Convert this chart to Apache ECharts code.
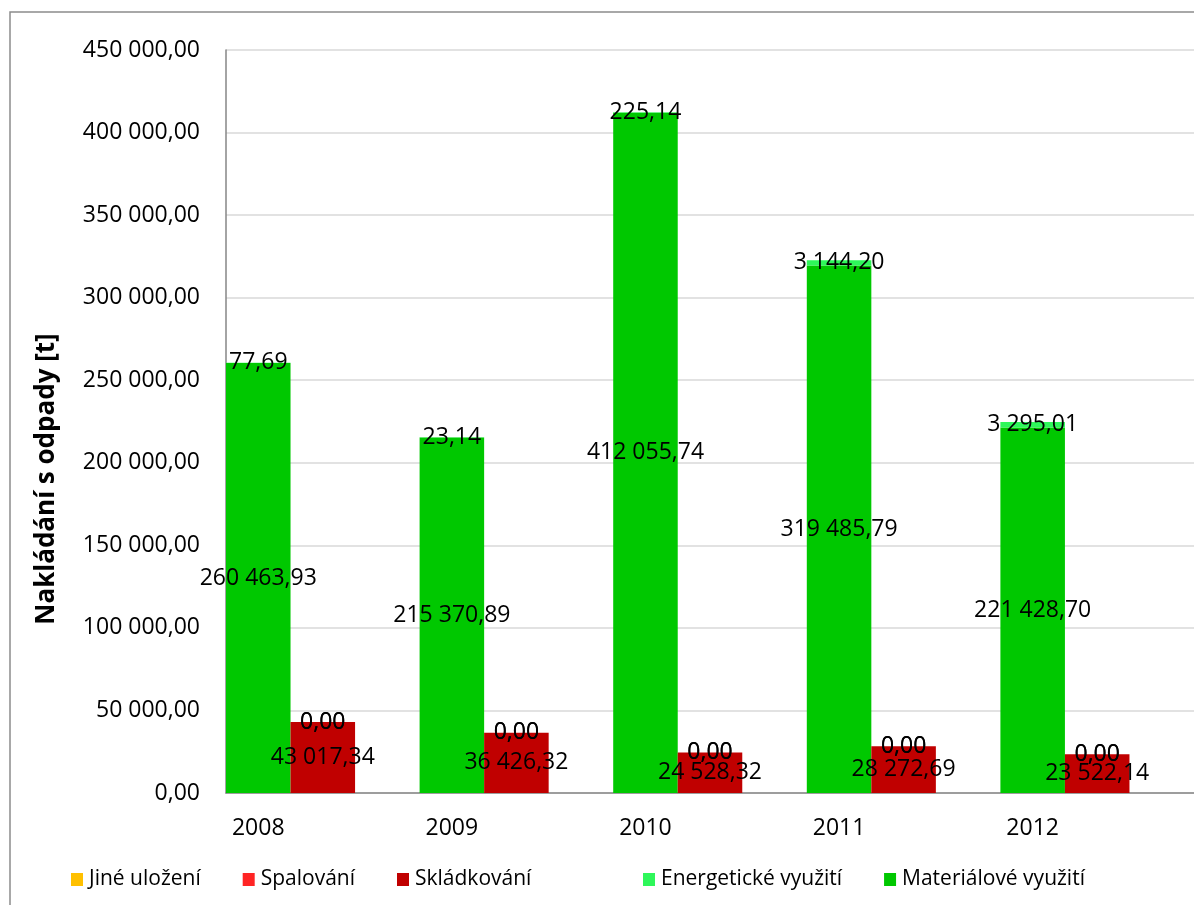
<!DOCTYPE html>
<html>
<head>
<meta charset="utf-8">
<script src="https://cdn.jsdelivr.net/npm/echarts@6/dist/echarts.min.js"></script>
<style>
html,body{margin:0;padding:0;background:#fff;}
#c{width:1194px;height:905px;}
</style>
</head>
<body>
<div id="c"></div>
<script>
// ---- data ----
var years = ['2008', '2009', '2010', '2011', '2012'];
var materialove = [260463.93, 215370.89, 412055.74, 319485.79, 221428.70];
var energeticke = [77.69, 23.14, 225.14, 3144.20, 3295.01];
var skladkovani = [43017.34, 36426.32, 24528.32, 28272.69, 23522.14];
var spalovani = [0, 0, 0, 0, 0];
var jineUlozeni = [0, 0, 0, 0, 0];
var yTicks = [0, 50000, 100000, 150000, 200000, 250000, 300000, 350000, 400000, 450000];

// ---- helpers ----
function fmt(v) {
  var s = Number(v).toFixed(2).split('.');
  var i = s[0].replace(/\B(?=(\d{3})+(?!\d))/g, ' ');
  return i + ',' + s[1];
}
// three slots per year: left bar, right bar, empty gap
var cats = [];
years.forEach(function (y) { cats.push(y, '', ''); });
function slot(arr, offset) {
  var out = [];
  arr.forEach(function (v) {
    for (var k = 0; k < 3; k++) out.push(k === offset ? v : '-');
  });
  return out;
}
var FONT = 'Open Sans';
var lbl = {
  show: true, position: 'inside', color: '#000', fontFamily: FONT, fontSize: 23,
  formatter: function (p) { return fmt(p.value); }
};
function bar(name, arr, offset, color) {
  return {
    name: name, type: 'bar', stack: 'all', data: slot(arr, offset),
    barWidth: '100%', barCategoryGap: '0%', barGap: '0%',
    itemStyle: { color: color }, label: lbl, emphasis: { disabled: true }
  };
}
var legendText = { color: '#000', fontFamily: FONT, fontSize: 21, padding: [0, 0, 0, 1] };

var chart = echarts.init(document.getElementById('c'));
chart.setOption({
  animation: false,
  backgroundColor: '#fff',
  grid: { left: 226, top: 50, height: 743, width: 970, containLabel: false },
  xAxis: {
    type: 'category', data: cats,
    axisLine: { lineStyle: { color: '#868686', width: 1.5 } },
    axisTick: { show: false },
    axisLabel: { interval: 0, margin: 24, color: '#000', fontFamily: FONT, fontSize: 23 }
  },
  yAxis: {
    type: 'value', min: yTicks[0], max: yTicks[yTicks.length - 1], interval: yTicks[1] - yTicks[0],
    axisLine: { show: true, lineStyle: { color: '#868686', width: 1.5 } },
    axisTick: { show: false },
    splitLine: { lineStyle: { color: '#d9d9d9', width: 1.5 } },
    axisLabel: { margin: 26, color: '#000', fontFamily: FONT, fontSize: 23, formatter: function (v) { return fmt(v); } }
  },
  legend: [
    {
      data: ['Jiné uložení', 'Spalování', 'Skládkování'],
      left: 71, top: 869, padding: 0, itemWidth: 12, itemHeight: 13, itemGap: 42, icon: 'rect',
      textStyle: legendText
    },
    {
      data: ['Energetické využití', 'Materiálové využití'],
      left: 643, top: 869, padding: 0, itemWidth: 12, itemHeight: 13, itemGap: 42, icon: 'rect',
      textStyle: legendText
    }
  ],
  graphic: [
    {
      type: 'rect', silent: true, z: 100,
      shape: { x: 10, y: 12, width: 1300, height: 1000 },
      style: { fill: 'none', stroke: '#8c8c8c', lineWidth: 1.5 }
    },
    {
      type: 'text', x: 47, y: 479, rotation: Math.PI / 2,
      style: {
        text: 'Nakládání s odpady [t]', fill: '#000', align: 'center', verticalAlign: 'middle',
        font: 'bold 26px "Open Sans"'
      }
    }
  ],
  series: [
    bar('Materiálové využití', materialove, 0, '#00c800'),
    bar('Energetické využití', energeticke, 0, '#2ef75a'),
    bar('Skládkování', skladkovani, 1, '#c00000'),
    bar('Spalování', spalovani, 1, '#ff2424'),
    bar('Jiné uložení', jineUlozeni, 1, '#ffc000')
  ]
});
</script>
</body>
</html>
